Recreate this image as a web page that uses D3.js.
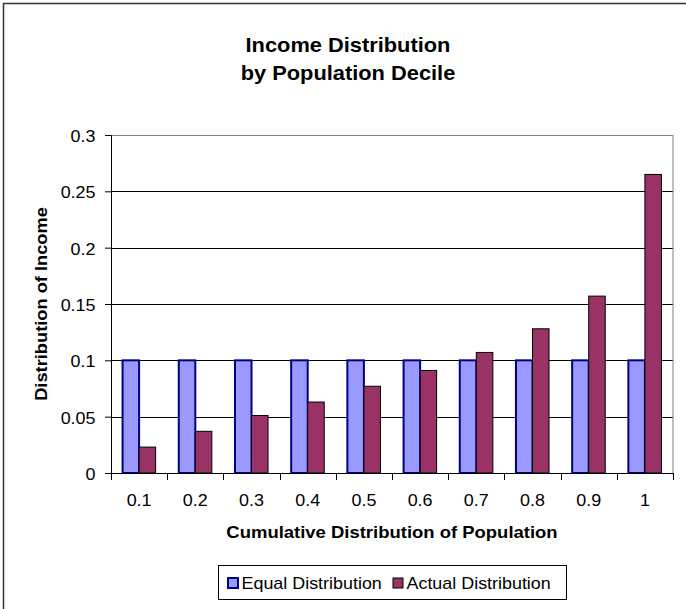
<!DOCTYPE html>
<html>
<head>
<meta charset="utf-8">
<script src="https://cdn.jsdelivr.net/npm/d3@7"></script>
<style>
  body { margin: 0; background: #fff; }
  text { font-family: "Liberation Sans", Arial, sans-serif; fill: #000; }
</style>
</head>
<body>
<div id="chart"></div>
<script>
// Chart data
var categories = ["0.1", "0.2", "0.3", "0.4", "0.5", "0.6", "0.7", "0.8", "0.9", "1"];
var seriesNames = ["Equal Distribution", "Actual Distribution"];
var equalValues = [0.1, 0.1, 0.1, 0.1, 0.1, 0.1, 0.1, 0.1, 0.1, 0.1];
var actualValues = [0.023, 0.037, 0.051, 0.063, 0.077, 0.091, 0.107, 0.128, 0.157, 0.265];
var yTicks = [0, 0.05, 0.1, 0.15, 0.2, 0.25, 0.3];

// Define svg size
var svgWidth = 686;
var svgHeight = 609;

// plot area edges
var margin = { top: 135, right: 13, bottom: 136, left: 111 };
var width = svgWidth - margin.left - margin.right;
var height = svgHeight - margin.top - margin.bottom;

// the old excel render is a little wide, so stretch text along its run
var stretch = 1.12;

var svg = d3.select("#chart")
  .append("svg")
  .attr("width", svgWidth)
  .attr("height", svgHeight);

// outer chart border (only top and left are in frame)
svg.append("rect")
  .attr("x", 3.5)
  .attr("y", 3.5)
  .attr("width", svgWidth + 20)
  .attr("height", svgHeight + 20)
  .attr("fill", "none")
  .attr("stroke", "#333")
  .attr("stroke-width", 1.5);

function addText(parent, x, y, str, size, bold, anchor, rotate) {
  var t = parent.append("text")
    .attr("transform", `translate(${x}, ${y})` + (rotate ? ` rotate(${rotate})` : "") + ` scale(${stretch}, 1)`)
    .attr("text-anchor", anchor || "middle")
    .style("font-size", size + "px")
    .text(str);
  if (bold) t.style("font-weight", "bold");
  return t;
}

// title
addText(svg, 348, 52, "Income Distribution", 19.5, true);
addText(svg, 348, 80, "by Population Decile", 19.5, true);

var chartGroup = svg.append("g")
  .attr("transform", `translate(${margin.left}, ${margin.top})`);

// scales
var x0 = d3.scaleBand()
  .domain(categories)
  .range([0, width])
  .padding(0);

var x1 = d3.scaleBand()
  .domain(seriesNames)
  .range([0, x0.bandwidth()])
  .paddingInner(0)
  .paddingOuter(0.7);

var yLinearScale = d3.scaleLinear()
  .domain([0, 0.3])
  .range([height, 0]);

// gridlines
chartGroup.append("g")
  .selectAll("line")
  .data(yTicks.slice(1, -1))
  .enter()
  .append("line")
  .attr("x1", 0)
  .attr("x2", width)
  .attr("y1", d => Math.round(yLinearScale(d)) + 0.5)
  .attr("y2", d => Math.round(yLinearScale(d)) + 0.5)
  .attr("stroke", "#000")
  .attr("stroke-width", 1);

// plot area border
chartGroup.append("rect")
  .attr("x", 0.5)
  .attr("y", 0.5)
  .attr("width", width - 0.5)
  .attr("height", height)
  .attr("fill", "none")
  .attr("stroke", "#808080")
  .attr("stroke-width", 1);

// bars
var rows = categories.map(function(c, i) {
  return { cat: c, values: [
    { name: seriesNames[0], value: equalValues[i] },
    { name: seriesNames[1], value: actualValues[i] }
  ] };
});

var fills = { "Equal Distribution": "#9999FF", "Actual Distribution": "#993366" };
var strokes = { "Equal Distribution": "#000080", "Actual Distribution": "#000" };
var strokeWidths = { "Equal Distribution": 2, "Actual Distribution": 1 };

var groups = chartGroup.selectAll(".cat")
  .data(rows)
  .enter()
  .append("g")
  .attr("class", "cat")
  .attr("transform", d => `translate(${x0(d.cat)}, 0)`);

groups.selectAll("rect")
  .data(d => d.values)
  .enter()
  .append("rect")
  .attr("x", d => x1(d.name))
  .attr("y", d => yLinearScale(d.value))
  .attr("width", x1.bandwidth())
  .attr("height", d => height - yLinearScale(d.value))
  .attr("fill", d => fills[d.name])
  .attr("stroke", d => strokes[d.name])
  .attr("stroke-width", d => strokeWidths[d.name]);

// y axis
var leftAxis = d3.axisLeft(yLinearScale)
  .tickValues(yTicks)
  .tickSize(6)
  .tickPadding(10)
  .tickFormat(d => String(+d.toFixed(2)));

var yAxis = chartGroup.append("g")
  .call(leftAxis);
yAxis.select(".domain").attr("stroke", "#000");
yAxis.selectAll("line").attr("stroke", "#000");
yAxis.selectAll("text")
  .style("font-size", "16px")
  .attr("dy", null)
  .attr("x", null)
  .attr("transform", `translate(-15.5, 6.5) scale(${stretch}, 1)`);

// x axis, ticks sit on category boundaries
var xAxis = chartGroup.append("g")
  .attr("transform", `translate(0, ${height})`);

xAxis.append("line")
  .attr("x1", 0)
  .attr("x2", width)
  .attr("y1", 0.5)
  .attr("y2", 0.5)
  .attr("stroke", "#000");

xAxis.selectAll(".bt")
  .data(d3.range(categories.length + 1))
  .enter()
  .append("line")
  .attr("class", "bt")
  .attr("x1", i => Math.round(i * x0.step()) + 0.5)
  .attr("x2", i => Math.round(i * x0.step()) + 0.5)
  .attr("y1", 0)
  .attr("y2", 7)
  .attr("stroke", "#000");

categories.forEach(function(c) {
  addText(xAxis, x0(c) + x0.bandwidth() / 2, 33, c, 16, false);
});

// axis titles
addText(svg, margin.left + width / 2, 538, "Cumulative Distribution of Population", 16.5, true);
addText(svg, 46.5, margin.top + height / 2, "Distribution of Income", 16.3, true, "middle", -90);

// legend
var legend = svg.append("g");
legend.append("rect")
  .attr("x", 218.5)
  .attr("y", 565.5)
  .attr("width", 348)
  .attr("height", 34)
  .attr("fill", "#fff")
  .attr("stroke", "#000")
  .attr("stroke-width", 1);

var legendX = [228, 393];
seriesNames.forEach(function(name, i) {
  legend.append("rect")
    .attr("x", legendX[i])
    .attr("y", 578)
    .attr("width", 10)
    .attr("height", 10)
    .attr("fill", fills[name])
    .attr("stroke", strokes[name])
    .attr("stroke-width", strokeWidths[name]);
  addText(legend, legendX[i] + 13.5, 589, name, 16, false, "start");
});
</script>
</body>
</html>
